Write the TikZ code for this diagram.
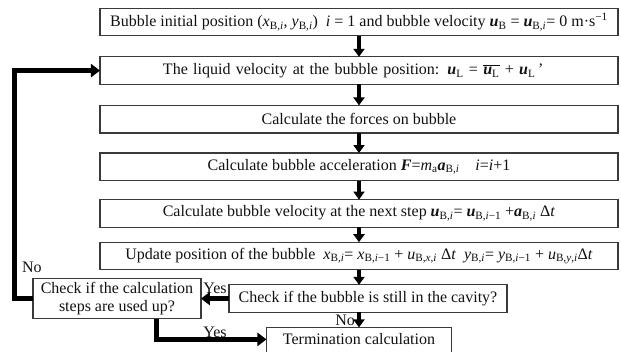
\documentclass[tikz,border=0pt]{standalone}
\usepackage{fontspec}
\setmainfont{Liberation Serif}
\usetikzlibrary{positioning, arrows.meta, calc}
\definecolor{clrborder}{HTML}{3A3A3A}
\definecolor{clrarrow}{HTML}{000000}
\definecolor{clrtext}{HTML}{111111}
\newcommand{\bfit}[1]{\textbf{\textit{#1}}}
\newcommand{\lowr}[1]{\textsubscript{#1}}

\begin{document}
\begin{tikzpicture}[
    x=1pt, y=1pt,
    every node/.style={font=\fontsize{16}{18}\selectfont, text=clrtext},
    block/.style={draw=clrborder, line width=1.2pt, minimum width=518pt,
                  minimum height=27.6pt, inner sep=2pt, outer sep=0pt},
    arrow/.style={-{Triangle[length=8pt, width=11pt]}, line width=4pt, color=clrarrow},
    skiparrow/.style={-{Triangle[length=9pt, width=13pt]}, line width=5pt, color=clrarrow},
    note/.style={inner sep=2pt},
]
\useasboundingbox (-359,22) rectangle (262,-329);
\node[block] (n_1) at (0,0) {Bubble initial position (\textit{x}\lowr{B,\textit{i}}, \textit{y}\lowr{B,\textit{i}})\enspace \textit{i} = 1 and bubble velocity \bfit{u}\lowr{B} = \bfit{u}\lowr{B,\textit{i}}= 0 m·s\textsuperscript{−1}};
\node[block, text width=502pt, align=left, below=21pt of n_1] (n_2) {\hspace*{55pt}The liquid velocity at the bubble position:\enspace \bfit{u}\lowr{L} = $\overline{\mbox{\bfit{u}\lowr{L}}}$ + \bfit{u}\lowr{L}\,'};
\node[block, below=21pt of n_2] (n_3) {Calculate the forces on bubble};
\node[block, below=20pt of n_3] (n_4) {Calculate bubble acceleration \bfit{F}=\textit{m}\lowr{a}\bfit{a}\lowr{B,\textit{i}}\quad \textit{i}=\textit{i}+1};
\node[block, below=19pt of n_4] (n_5) {Calculate bubble velocity at the next step \bfit{u}\lowr{B,\textit{i}}= \bfit{u}\lowr{B,\textit{i}−1} +\bfit{a}\lowr{B,\textit{i}} Δ\textit{t}};
\node[block, below=15pt of n_5] (n_6) {Update position of the bubble\enspace \textit{x}\lowr{B,\textit{i}}= \textit{x}\lowr{B,\textit{i}−1} + \textit{u}\lowr{B,\textit{x},\textit{i}} Δ\textit{t}\enspace \textit{y}\lowr{B,\textit{i}}= \textit{y}\lowr{B,\textit{i}−1} + \textit{u}\lowr{B,\textit{y},\textit{i}}Δ\textit{t}};
\node[block, minimum width=278pt, below=15pt of n_6, xshift=9pt] (n_7) {Check if the bubble is still in the cavity?};
\node[block, minimum width=185pt, minimum height=30pt, text height=11pt, text depth=6pt, below=15pt of n_7, xshift=-9pt] (n_8) {Termination calculation};
\node[block, minimum width=168pt, minimum height=40pt, align=center, left=28pt of n_7] (n_9) {Check if the calculation\\steps are used up?};
\coordinate (t_in) at ([yshift=-12pt]n_8.north west);
\draw[arrow] (n_1.south) -- (n_2.north);
\draw[arrow] (n_2.south) -- (n_3.north);
\draw[arrow] (n_3.south) -- (n_4.north);
\draw[arrow] (n_4.south) -- (n_5.north);
\draw[arrow] (n_5.south) -- (n_6.north);
\draw[arrow] (n_6.south) -- (n_6.south |- n_7.north);
\draw[arrow] (n_8.north |- n_7.south) -- node[note, left] (no_2) {No} (n_8.north);
\draw[skiparrow] (n_7.west) -- node[note, above] (yes_1) {Yes} (n_9.east);
\draw[skiparrow] ([xshift=40pt]n_9.south) |- (t_in);
\node[note, anchor=south] (yes_2) at (yes_1.south |- t_in) {Yes};
\draw[skiparrow] (n_9.west) -- ++(-18pt,0) coordinate (c_1) |- (n_2.west);
\node[note, anchor=south west] (no_1) at ([xshift=5pt, yshift=24pt]c_1) {No};
\end{tikzpicture}
\end{document}
